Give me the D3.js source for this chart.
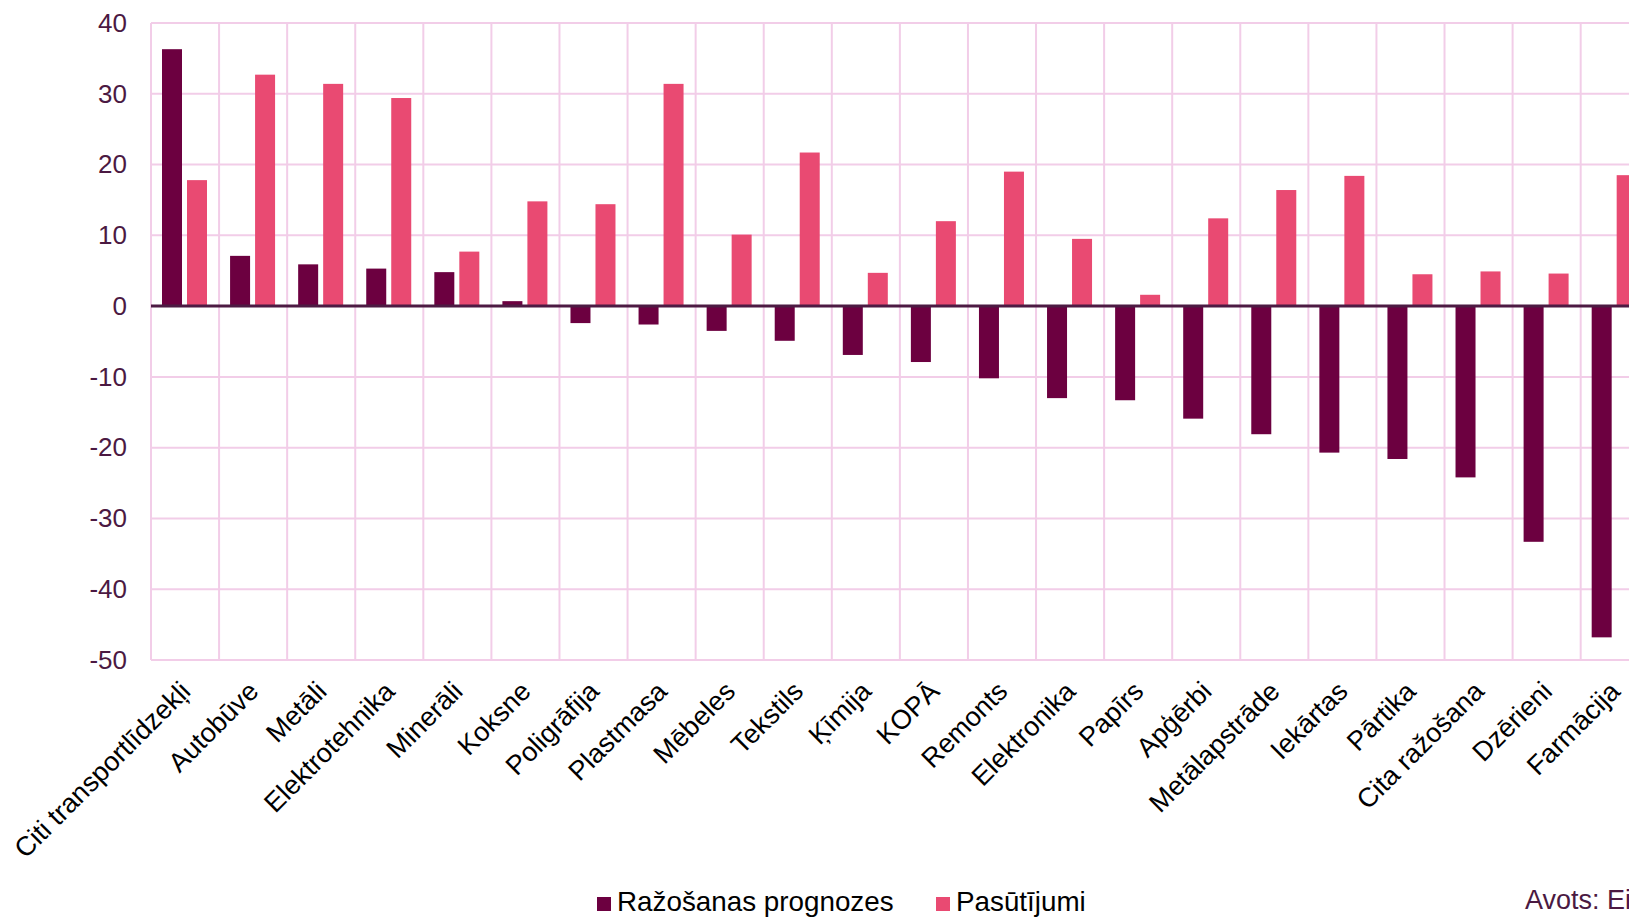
<!DOCTYPE html>
<html>
<head>
<meta charset="utf-8">
<script src="https://cdn.jsdelivr.net/npm/d3@7"></script>
<style>
html,body{margin:0;padding:0;background:#fff;overflow:hidden;}
svg{display:block;}
text{font-family:"Liberation Sans",Arial,sans-serif;}
</style>
</head>
<body>
<svg id="chart" width="1629" height="917"></svg>
<script>
const categories = ["Citi transportlīdzekļi","Autobūve","Metāli","Elektrotehnika","Minerāli","Koksne","Poligrāfija","Plastmasa","Mēbeles","Tekstils","Ķīmija","KOPĀ","Remonts","Elektronika","Papīrs","Apģērbi","Metālapstrāde","Iekārtas","Pārtika","Cita ražošana","Dzērieni","Farmācija"];
const seriesNames = ["Ražošanas prognozes","Pasūtījumi"];
const production = [36.3,7.1,5.9,5.3,4.8,0.7,-2.4,-2.6,-3.5,-4.9,-6.9,-7.9,-10.2,-13.0,-13.3,-15.9,-18.1,-20.7,-21.6,-24.2,-33.3,-46.8];
const orders = [17.8,32.7,31.4,29.4,7.7,14.8,14.4,31.4,10.1,21.7,4.7,12.0,19.0,9.5,1.6,12.4,16.4,18.4,4.5,4.9,4.6,18.5];
const yTicks = [40,30,20,10,0,-10,-20,-30,-40,-50];
const sourceText = "Avots: Eiropas Komisija";

const colors = ["#6c0040","#e94a72"];
const gridColor = "#f2cde8";
const axisTextColor = "#4b1942";

const svg = d3.select("#chart");
const plotLeft = 151, stepW = 68.08, plotTop = 23, plotBottom = 660;
const plotRight = plotLeft + stepW * categories.length;

const x0 = d3.scaleBand().domain(categories).range([plotLeft, plotRight]).padding(0);
const x1 = d3.scaleBand().domain(seriesNames).range([11, 56]).paddingInner(0.2);
const y = d3.scaleLinear().domain([-50, 40]).range([plotBottom, plotTop]);

const data = categories.map((c, i) => ({cat: c, vals: [production[i], orders[i]]}));

// horizontal gridlines
svg.append("g").selectAll("line").data(yTicks).join("line")
  .attr("x1", plotLeft).attr("x2", plotRight)
  .attr("y1", d => y(d)).attr("y2", d => y(d))
  .attr("stroke", gridColor).attr("stroke-width", 2);

// vertical gridlines at category boundaries
const bounds = categories.map(c => x0(c)).concat([plotRight]);
svg.append("g").selectAll("line").data(bounds).join("line")
  .attr("x1", d => d).attr("x2", d => d)
  .attr("y1", plotTop).attr("y2", plotBottom)
  .attr("stroke", gridColor).attr("stroke-width", 2);

// bars
const groups = svg.append("g").selectAll("g").data(data).join("g")
  .attr("transform", d => `translate(${x0(d.cat)},0)`);
groups.selectAll("rect").data(d => d.vals.map((v, j) => ({s: seriesNames[j], v, j}))).join("rect")
  .attr("x", d => x1(d.s))
  .attr("width", x1.bandwidth())
  .attr("y", d => y(Math.max(0, d.v)))
  .attr("height", d => Math.abs(y(d.v) - y(0)))
  .attr("fill", d => colors[d.j]);

// zero line
svg.append("line")
  .attr("x1", plotLeft).attr("x2", plotRight)
  .attr("y1", y(0)).attr("y2", y(0))
  .attr("stroke", "#4d1a43").attr("stroke-width", 3);

// y axis labels
const yAxis = d3.axisLeft(y).tickValues(yTicks).tickSize(0).tickPadding(24).tickFormat(d => String(d));
const ya = svg.append("g").attr("transform", `translate(${plotLeft},0)`).call(yAxis);
ya.select(".domain").remove();
ya.selectAll("text").attr("font-size", 26).attr("fill", axisTextColor)
  .attr("font-family", "'Liberation Sans', Arial, sans-serif");

// x axis labels
const xAxis = d3.axisBottom(x0).tickSize(0).tickPadding(0);
const xa = svg.append("g").attr("transform", `translate(0,${plotBottom})`).call(xAxis);
xa.select(".domain").remove();
xa.selectAll("text")
  .attr("font-size", 27).attr("fill", "#000")
  .attr("font-family", "'Liberation Sans', Arial, sans-serif")
  .attr("text-anchor", "end")
  .attr("dy", null).attr("y", null)
  .attr("transform", "translate(7,33) rotate(-45)");

// legend
const legend = svg.append("g");
const legX = [597, 936];
seriesNames.forEach((s, i) => {
  legend.append("rect").attr("x", legX[i]).attr("y", 897).attr("width", 14).attr("height", 14).attr("fill", colors[i]);
  legend.append("text").attr("x", legX[i] + 20).attr("y", 911).attr("font-size", 27.8).attr("fill", "#000").text(s);
});

// source
svg.append("text").attr("x", 1525).attr("y", 909).attr("font-size", 27).attr("fill", axisTextColor).text(sourceText);
</script>
</body>
</html>
